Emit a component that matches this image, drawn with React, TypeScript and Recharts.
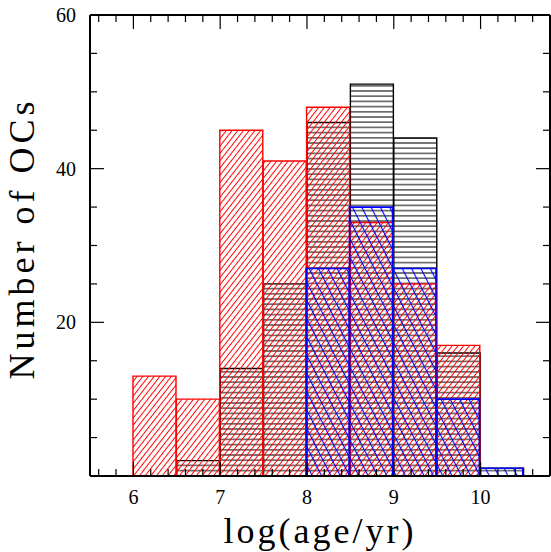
import { ComposedChart, Bar, XAxis, YAxis } from 'recharts';

// histogram bins of log(age/yr), width 0.5
const binStart = [6.0, 6.5, 7.0, 7.5, 8.0, 8.5, 9.0, 9.5, 10.0];
const binWidth = 0.5;
const redCounts = [13, 10, 45, 41, 48, 33, 25, 17, 0];
const blackCounts = [0, 2, 14, 25, 46, 51, 44, 16, 1];
const blueCounts = [0, 0, 0, 0, 27, 35, 27, 10, 1];

const xTicks = [
  5.6, 5.8, 6, 6.2, 6.4, 6.6, 6.8, 7, 7.2, 7.4, 7.6, 7.8, 8, 8.2, 8.4, 8.6, 8.8, 9,
  9.2, 9.4, 9.6, 9.8, 10, 10.2, 10.4, 10.6,
];
const xLabels = [6, 7, 8, 9, 10];
const yTicks = [5, 10, 15, 20, 25, 30, 35, 40, 45, 50, 55, 60];
const yLabels = [20, 40, 60];

const data = binStart.map((s, i) => ({
  x: s + binWidth / 2,
  red: redCounts[i],
  black: blackCounts[i],
  blue: blueCounts[i],
}));

const tickFont = { fontFamily: '"Liberation Serif", serif', fontSize: 20, fill: '#000' };
const titleFont = { fontFamily: '"Liberation Serif", serif', fontSize: 36, fill: '#000' };

const BottomTick = ({ x, y, payload }: any) => {
  const major = xLabels.includes(payload.value);
  const len = major ? 14 : 7;
  return (
    <g>
      <line x1={x} x2={x} y1={y} y2={y - len} stroke="#000" strokeWidth={1.2} />
      {major && (
        <text x={x} y={y + 28} textAnchor="middle" {...tickFont}>
          {payload.value}
        </text>
      )}
    </g>
  );
};

const TopTick = ({ x, y, payload }: any) => {
  const len = xLabels.includes(payload.value) ? 14 : 7;
  return <line x1={x} x2={x} y1={y} y2={y + len} stroke="#000" strokeWidth={1.2} />;
};

const LeftTick = ({ x, y, payload }: any) => {
  const major = yLabels.includes(payload.value);
  const len = major ? 14 : 7;
  return (
    <g>
      <line x1={x} x2={x + len} y1={y} y2={y} stroke="#000" strokeWidth={1.2} />
      {major && (
        <text x={x - 14} y={y + 7} textAnchor="end" {...tickFont}>
          {payload.value}
        </text>
      )}
    </g>
  );
};

const RightTick = ({ x, y, payload }: any) => {
  const len = yLabels.includes(payload.value) ? 14 : 7;
  return <line x1={x} x2={x - len} y1={y} y2={y} stroke="#000" strokeWidth={1.2} />;
};

export default function App() {
  return (
    <div style={{ position: 'absolute', left: 0, top: 0 }}>
      <ComposedChart
        width={551}
        height={552}
        data={data}
        margin={{ top: 0, right: 0, bottom: 0, left: 0 }}
        barGap="-100%"
        barCategoryGap={0}
      >
        <defs>
          <pattern id="hatchRed" patternUnits="userSpaceOnUse" width={10} height={4.5} patternTransform="rotate(-52)">
            <line x1={0} y1={2.25} x2={10} y2={2.25} stroke="#ff0000" strokeWidth={1} />
          </pattern>
          <pattern id="hatchBlack" patternUnits="userSpaceOnUse" width={10} height={5.2}>
            <line x1={0} y1={2.6} x2={10} y2={2.6} stroke="#000" strokeWidth={1} />
          </pattern>
          <pattern id="hatchBlue" patternUnits="userSpaceOnUse" width={10} height={8.3} patternTransform="rotate(63)">
            <line x1={0} y1={4.15} x2={10} y2={4.15} stroke="#0000ff" strokeWidth={1.1} />
          </pattern>
        </defs>
        <XAxis
          dataKey="x"
          type="number"
          domain={[5.5, 10.8]}
          allowDataOverflow
          ticks={xTicks}
          interval={0}
          height={76}
          tickSize={0}
          tickMargin={0}
          tick={<BottomTick />}
          tickLine={false}
          axisLine={{ stroke: '#000', strokeWidth: 2 }}
          label={{
            content: ({ viewBox }: any) => (
              <text
                x={viewBox.x + viewBox.width / 2}
                y={viewBox.y + 67}
                textAnchor="middle"
                letterSpacing={3}
                {...titleFont}
              >
                log(age/yr)
              </text>
            ),
          }}
        />
        <XAxis
          xAxisId="top"
          orientation="top"
          dataKey="x"
          type="number"
          domain={[5.5, 10.8]}
          allowDataOverflow
          ticks={xTicks}
          interval={0}
          height={15}
          tickSize={0}
          tickMargin={0}
          tick={<TopTick />}
          tickLine={false}
          axisLine={{ stroke: '#000', strokeWidth: 2 }}
        />
        <YAxis
          type="number"
          domain={[0, 60]}
          allowDataOverflow
          ticks={yTicks}
          interval={0}
          width={90}
          tickSize={0}
          tickMargin={0}
          tick={<LeftTick />}
          tickLine={false}
          axisLine={{ stroke: '#000', strokeWidth: 2 }}
          label={{
            content: ({ viewBox }: any) => {
              const cx = 34;
              const cy = viewBox.y + viewBox.height / 2 - 7;
              return (
                <text
                  x={cx}
                  y={cy}
                  textAnchor="middle"
                  letterSpacing={4}
                  transform={`rotate(-90, ${cx}, ${cy})`}
                  {...titleFont}
                >
                  Number of OCs
                </text>
              );
            },
          }}
        />
        <YAxis
          yAxisId="right"
          orientation="right"
          type="number"
          domain={[0, 60]}
          allowDataOverflow
          ticks={yTicks}
          interval={0}
          width={1}
          tickSize={0}
          tickMargin={0}
          tick={<RightTick />}
          tickLine={false}
          axisLine={{ stroke: '#000', strokeWidth: 2 }}
        />
        <Bar dataKey="black" fill="url(#hatchBlack)" stroke="#000" strokeWidth={1.4} isAnimationActive={false} />
        <Bar dataKey="red" fill="url(#hatchRed)" stroke="#ff0000" strokeWidth={1.4} isAnimationActive={false} />
        <Bar dataKey="blue" fill="url(#hatchBlue)" stroke="#0000ff" strokeWidth={1.6} isAnimationActive={false} />
      </ComposedChart>
    </div>
  );
}
